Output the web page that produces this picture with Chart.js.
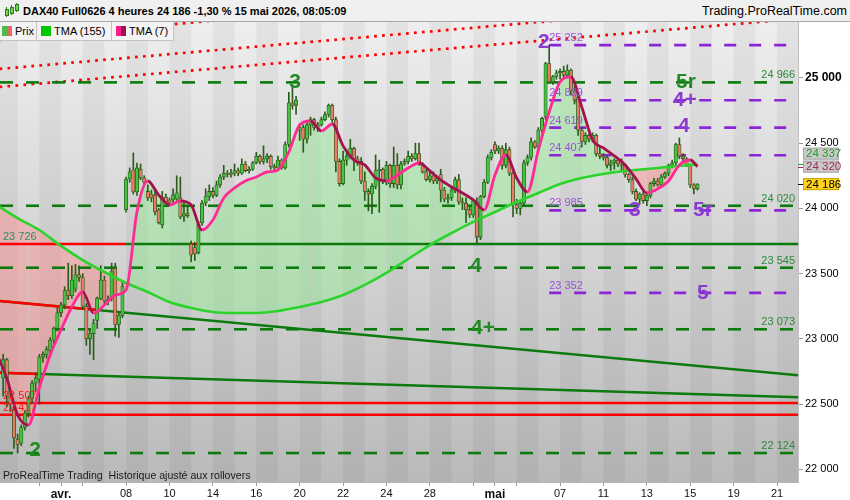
<!DOCTYPE html>
<html lang="fr">
<head>
<meta charset="utf-8">
<title>DAX40 Full0626 4 heures</title>
<script src="https://cdn.jsdelivr.net/npm/chart.js@4.4.1/dist/chart.umd.min.js"></script>
<style>
  body { margin: 0; background: #fff; }
  #cadre { position: relative; width: 850px; height: 500px; overflow: hidden; font-family: "Liberation Sans", Arial, sans-serif; }
  #graphique { position: absolute; left: 0; top: 0; }
  #entete { position: absolute; left: 0; top: 0; width: 850px; height: 21px; background: #f0f0f0; border-bottom: 1px solid #a8a8a8; }
  #titre { position: absolute; left: 23px; top: 0; line-height: 22px; font-size: 11px; font-weight: bold; color: #000; white-space: nowrap; }
  #site { position: absolute; right: 3px; top: 0; line-height: 22px; font-size: 12.5px; color: #000; white-space: nowrap; }
  .meche { position: absolute; width: 1px; background: #2f7d1f; }
  .corps { position: absolute; width: 2px; border: 1px solid #2f7d1f; background: #6fd34f; }
  #legende { position: absolute; left: 0; top: 22px; height: 18px; display: flex; background: #f3f3f3; border-bottom: 1px solid #c2c2c2; font-size: 11px; color: #000; }
  .case { display: flex; align-items: center; box-sizing: border-box; padding-left: 2px; border-right: 1px solid #c2c2c2; height: 18px; white-space: nowrap; }
  .icone { width: 10px; height: 10px; margin-right: 3px; }
  #note { position: absolute; left: 3px; top: 469px; font-size: 10.6px; color: #1a1a1a; white-space: nowrap; }
</style>
</head>
<body>
<div id="cadre">
  <canvas id="graphique" width="850" height="500"></canvas>
  <div id="entete">
    <div class="meche" style="left:6px;top:7px;height:10px"></div><div class="corps" style="left:5px;top:9px;height:5px"></div>
    <div class="meche" style="left:11px;top:5px;height:10px"></div><div class="corps" style="left:10px;top:7px;height:5px"></div>
    <div class="meche" style="left:16px;top:3px;height:9px"></div><div class="corps" style="left:15px;top:4px;height:5px"></div>
    <div id="titre">DAX40 Full0626 4 heures 24 186 -1,30 % 15 mai 2026, 08:05:09</div>
    <div id="site">Trading.ProRealTime.com</div>
  </div>
  <div id="legende">
    <div class="case" style="width:37px"><div class="icone" style="background:linear-gradient(90deg,#4cbb4c 50%,#e26868 50%)"></div>Prix</div>
    <div class="case" style="width:75px;padding-left:4px"><div class="icone" style="background:#00c800"></div>TMA (155)</div>
    <div class="case" style="width:62px;padding-left:4px"><div class="icone" style="background:linear-gradient(90deg,#ff1a8c 50%,#a0104a 50%)"></div>TMA (7)</div>
  </div>
  <div id="note">ProRealTime Trading&nbsp; Historique ajusté aux rollovers</div>
</div>
<script>
// jours de cotation (6 barres de 4 heures par jour)
const jours = ['27/03','30/03','31/03','01/04','02/04','07/04','08/04','09/04','10/04','13/04','14/04','15/04','16/04','17/04','20/04','21/04','22/04','23/04','24/04','27/04','28/04','29/04','30/04','04/05','05/05','06/05','07/05','08/05','11/05','12/05','13/05','14/05','15/05','18/05','19/05','20/05','21/05','22/05'];
// libellé de graduation par jour (null = pas de graduation)
const etiquettesJours = [null,null,'','avr.','',null,'08',null,'10',null,'14',null,'16',null,'20',null,'22',null,'24',null,'28',null,'','mai','',null,'07',null,'11',null,'13',null,'15',null,'19',null,'21',null];
const graduationsY = [22000, 22500, 23000, 23500, 24000, 24500, 25000];
const barresParJour = 6;
const premiereBarre = 2; // 1re bougie visible = 3e barre du 27/03

const ouvertures = [
  22700,22840,22560,22460,
  22230,22200,22320,22430,22540,22660, 22690,22860,22880,22910,22990,23080,
  23200,23260,23370,23330,23380,23490, 23470,23250,23000,23040,23140,23310,
  23450,23290,23310,23540,23110,23180, 23990,24225,24295,24126,24300,24235,
  24130,24110,24103,23988,23873,24087, 24064,24064,24070,24080,23940,23960,
  23727,23700,23660,23888,24041,24090, 24130,24100,24180,24240,24270,24260,
  24270,24290,24270,24340,24290,24300, 24350,24400,24360,24380,24400,24320,
  24310,24370,24310,24490,24810,24790, 24600,24620,24530,24640,24680,24620,
  24640,24680,24720,24790,24680,24360, 24190,24370,24400,24460,24380,24360,
  24210,24130,24110,24170,24290,24300, 24200,24330,24190,24330,24180,24340,
  24360,24400,24380,24420,24340,24280, 24220,24250,24210,24260,24140,24070,
  24080,24140,24220,24050,24040,23990, 23950,24050,23780,24090,24200,24390,
  24490,24440,24460,24330,24450,24270, 24030,24000,24040,24350,24390,24510,
  24470,24600,24700,25110,24970,25010, 25040,25050,25020,25060,24900,24850,
  24600,24510,24560,24530,24560,24420, 24400,24390,24330,24350,24370,24340,
  24330,24260,24220,24130,24070,24110, 24060,24100,24190,24210,24180,24240,
  24270,24330,24350,24490,24400,24380, 24330,24180,24150
];
const hauts = [
  22880,22850,22600,22480,
  22270,22340,22450,22560,22680,22740, 22880,22900,22940,23010,23090,23240,
  23280,23400,23580,23560,23570,23560, 23500,23270,23080,23150,23320,23560,
  23480,23330,23580,23580,23200,23440, 24240,24310,24425,24348,24340,24250,
  24180,24140,24150,24000,24130,24110, 24080,24150,24250,24240,24060,24020,
  23750,23740,23900,24060,24150,24180, 24160,24210,24260,24330,24290,24300,
  24340,24310,24380,24360,24320,24360, 24430,24410,24480,24420,24410,24340,
  24400,24380,24510,24890,24930,24860, 24650,24640,24660,24700,24690,24660,
  24700,24740,24800,24800,24700,24380, 24440,24450,24530,24470,24400,24390,
  24280,24150,24190,24410,24370,24310, 24360,24340,24470,24420,24360,24380,
  24440,24420,24500,24500,24350,24300, 24280,24280,24250,24300,24160,24110,
  24160,24240,24260,24080,24080,24010, 24070,24080,24100,24220,24410,24450,
  24510,24480,24480,24500,24470,24280, 24070,24060,24370,24410,24540,24520,
  24620,24700,25120,25252,25020,25060, 25070,25090,25100,25070,24940,24880,
  24620,24580,24570,24580,24570,24470, 24420,24400,24370,24380,24380,24380,
  24340,24270,24240,24150,24120,24130, 24120,24200,24230,24230,24260,24280,
  24340,24370,24500,24540,24420,24390, 24340,24190,24190
];
const bas = [
  22560,22480,22440,22160,
  22124,22180,22300,22400,22500,22600, 22500,22820,22850,22890,22960,23060,
  23170,23230,23300,23310,23360,23440, 23230,22950,22880,22840,23080,23300,
  23270,23260,23290,23020,23010,23160, 23970,24200,24110,24100,24220,24180,
  24060,24050,23950,23880,23850,24040, 24020,24040,24060,23920,23900,23930,
  23590,23600,23650,23870,24020,24060, 24080,24090,24160,24220,24240,24240,
  24250,24250,24260,24280,24270,24290, 24340,24340,24340,24350,24300,24290,
  24300,24300,24300,24470,24760,24720, 24520,24430,24500,24560,24600,24590,
  24630,24670,24700,24660,24280,24170, 24180,24330,24380,24290,24330,24190,
  24060,23980,23960,24150,23970,24190, 24180,24160,24160,24150,24150,24330,
  24340,24360,24370,24330,24270,24210, 24200,24190,24190,24050,24050,24040,
  24060,24120,24030,23990,23890,23930, 23930,23735,23760,24080,24190,24370,
  24420,24420,24300,24310,24250,23935, 23960,23950,24020,24330,24370,24460,
  24460,24580,24680,24960,24950,24990, 24990,25000,25000,24870,24800,24560,
  24470,24490,24510,24510,24400,24380, 24370,24310,24290,24300,24320,24290,
  24240,24200,24110,24060,24030,24040, 24020,24080,24170,24170,24170,24230,
  24250,24310,24330,24380,24360,24320, 24160,24110,24140
];
const clotures = [
  22840,22560,22500,22240,
  22190,22320,22430,22540,22660,22700, 22860,22880,22920,22990,23080,23200,
  23260,23370,23330,23450,23490,23470, 23250,23000,23040,23120,23310,23450,
  23290,23300,23520,23110,23180,23400, 24225,24280,24126,24310,24235,24200,
  24080,24080,23973,23890,24087,24050, 24041,24103,24120,23935,23960,23945,
  23643,23650,23880,24041,24090,24130, 24100,24180,24240,24270,24260,24270,
  24290,24270,24340,24290,24300,24350, 24400,24360,24380,24400,24320,24310,
  24370,24310,24490,24810,24790,24830, 24620,24530,24640,24680,24620,24640,
  24680,24720,24790,24680,24360,24190, 24370,24400,24460,24380,24350,24210,
  24130,24110,24170,24290,24300,24210, 24330,24190,24330,24180,24340,24360,
  24400,24380,24420,24340,24280,24220, 24250,24210,24230,24140,24070,24080,
  24140,24220,24050,24040,23990,23950, 24060,23780,24090,24200,24390,24430,
  24440,24460,24330,24450,24270,24030, 24000,24040,24350,24390,24510,24470,
  24600,24690,25110,24970,25010,25040, 25050,25020,25060,24900,24830,24600,
  24510,24560,24530,24560,24420,24400, 24390,24330,24350,24370,24340,24330,
  24260,24220,24130,24070,24110,24060, 24100,24190,24210,24180,24240,24270,
  24330,24350,24490,24400,24380,24330, 24180,24150,24186
];

// TMA (7) relevée toutes les demi-journées (3 barres), dernière valeur sur la dernière bougie
const pasTma7 = 3;
const tma7 = [
  22899,22700,22416,22339,22623,22876,23068,23244,23359,23198,23259,23336,
  23374,23972,24210,24103,24026,24057,24026,23834,23911,24080,24157,24210,
  24241,24279,24295,24433,24640,24670,24594,24647,24479,24371,24333,24233,
  24210,24256,24310,24348,24287,24218,24164,24118,24065,23988,24256,24410,
  24233,24126,24448,24739,24969,25008,24778,24525,24463,24402,24333,24226,
  24118,24149,24210,24333,24371,24320
];
// TMA (155) relevée au début de chaque jour, dernière valeur sur la dernière bougie
const tma155 = [
  24030,23926,23834,23712,23604,23512,23428,23359,23282,23236,23206,23198,
  23198,23213,23244,23282,23336,23413,23505,23612,23719,23811,23896,23972,
  24049,24118,24187,24233,24264,24287,24302,24318,24333,24337
];

// niveaux horizontaux
const niveauxVerts = [24966, 24020, 23545, 23073, 22124];
const niveauxViolets = [25252, 24829, 24619, 24407, 23985, 23352];
const niveauxRouges = [22507, 22417];
const support = 23726;
// droites obliques : valeur au bord gauche / droit, fin de la partie rouge (barre)
const tendances = [
  { debut: 23290, fin: 22720, rougeJusqua: 28 },
  { debut: 22740, fin: 22552, rougeJusqua: 12 }
];
// canal pointillé rouge
const canal = [[25291, 25845], [25069, 25602], [24931, 25455]];
// repères de vagues (position en barres, valeur)
const vaguesVertes = [
  { t: '2', x: 10.8, y: 22147 }, { t: '3', x: 82.7, y: 24965 }, { t: '4', x: 132.7, y: 23558 },
  { t: '4+', x: 134.7, y: 23083 }, { t: '5r', x: 190.8, y: 24965 }
];
const vaguesViolettes = [
  { t: '2', x: 151.5, y: 25272 }, { t: '4+', x: 190.5, y: 24831 }, { t: '4', x: 190.2, y: 24628 },
  { t: '3', x: 176.7, y: 23984 }, { t: '5r', x: 195.5, y: 23984 }, { t: '5', x: 195.5, y: 23347 }
];

const xMin = 1.13, xMax = 221.8, yMin = 21902, yMax = 25429;
const ancreG = 1, ancreD = 222;

const VERT = '#0c7a0c', ROUGE = '#ff0000', VIOLET = '#8c24d8';
const fmt = v => String(v).replace(/\B(?=(\d{3})+(?!\d))/g, ' ');
const pos = i => premiereBarre + i;
const der = clotures.length - 1;

Chart.defaults.font.family = '"Liberation Sans", Arial, sans-serif';

const pointsTma7 = tma7.map((v, i) => ({ x: i < tma7.length - 1 ? i * pasTma7 : pos(der), y: v }));
const pointsTma155 = tma155.map((v, i) => ({ x: i < tma155.length - 1 ? i * barresParJour : pos(der), y: v }));
const iSommet = hauts.indexOf(Math.max(...hauts));

const ligne = (data, couleur, largeur, tirets, ordre, extra) => Object.assign({
  type: 'line', data, borderColor: couleur, borderWidth: largeur, borderDash: tirets || [],
  pointRadius: 0, fill: false, order: ordre, borderCapStyle: 'butt'
}, extra || {});

const jeux = [
  ligne(pointsTma155, '#2bd42b', 2.6, null, 2, { cubicInterpolationMode: 'monotone' }),
  ligne(pointsTma7, '#ff2a93', 2.8, null, 1, {
    cubicInterpolationMode: 'monotone',
    fill: { target: 0, above: 'rgba(150,236,150,0.5)', below: 'rgba(255,140,140,0.45)' },
    segment: { borderColor: s => s.p1.parsed.y >= s.p0.parsed.y ? '#ff2a93' : '#a3124f' }
  }),
  {
    type: 'bar', grouped: false, order: 4, barThickness: 1, borderWidth: 0,
    backgroundColor: '#2a5c1a',
    data: clotures.map((c, i) => ({ x: pos(i), y: [bas[i], hauts[i]] }))
  },
  {
    type: 'bar', grouped: false, order: 3, barThickness: 3.4, borderWidth: 0.8, borderSkipped: false,
    borderColor: '#2a5c1a',
    backgroundColor: clotures.map((c, i) => c >= ouvertures[i] ? '#42c642' : '#ec7a68'),
    data: clotures.map((c, i) => ({ x: pos(i), y: [ouvertures[i], c] }))
  }
];

const pointsSupport = [{ x: xMin, y: support, c: clotures[0] }]
  .concat(clotures.map((c, i) => ({ x: pos(i), y: support, c })))
  .concat([{ x: xMax, y: support, c: clotures[der] }]);
jeux.push(ligne(pointsSupport, VERT, 2.5, null, 5, {
  segment: { borderColor: s => pointsSupport[s.p0DataIndex].c < support ? ROUGE : VERT }
}));
niveauxVerts.forEach(v => jeux.push(ligne([{ x: xMin, y: v }, { x: xMax, y: v }], VERT, 2.6, [13, 13], 6)));
niveauxViolets.forEach(v => jeux.push(ligne([{ x: pos(iSommet), y: v }, { x: xMax, y: v }], VIOLET, 2.6, [12, 13], 6)));
niveauxRouges.forEach(v => jeux.push(ligne([{ x: ancreG, y: v }, { x: ancreD, y: v }], ROUGE, 2.5, null, 7)));
tendances.forEach(t => {
  jeux.push(ligne([{ x: ancreG, y: t.debut }, { x: ancreD, y: t.fin }], VERT, 2.4, null, 8));
  const yr = t.debut + (t.fin - t.debut) * (t.rougeJusqua - ancreG) / (ancreD - ancreG);
  jeux.push(ligne([{ x: ancreG, y: t.debut }, { x: t.rougeJusqua, y: yr }], ROUGE, 2.4, null, 7.5));
});
canal.forEach(c => jeux.push(ligne([{ x: ancreG, y: c[0] }, { x: ancreD, y: c[1] }], ROUGE, 2.7, [2.7, 5.3], 9)));

const fond = {
  id: 'fond',
  beforeDraw(chart) {
    const { ctx, chartArea: a, scales: { x } } = chart;
    ctx.save();
    const g = ctx.createLinearGradient(0, a.top, 0, a.bottom);
    g.addColorStop(0, '#eeeeee');
    g.addColorStop(1, '#bababa');
    ctx.fillStyle = g;
    ctx.fillRect(a.left, a.top, a.width, a.height);
    ctx.beginPath(); ctx.rect(a.left, a.top, a.width, a.height); ctx.clip();
    ctx.fillStyle = 'rgba(0,0,0,0.045)';
    jours.forEach((j, i) => {
      if (i % 2) return;
      const x0 = x.getPixelForValue(i * barresParJour), x1 = x.getPixelForValue((i + 1) * barresParJour);
      ctx.fillRect(x0, a.top, x1 - x0, a.height);
    });
    ctx.restore();
  }
};

const textes = {
  id: 'textes',
  afterDatasetsDraw(chart) {
    const { ctx, chartArea: a, scales: { x, y } } = chart;
    ctx.save();
    ctx.textBaseline = 'middle';
    ctx.font = '11px "Liberation Sans", Arial, sans-serif';
    ctx.textAlign = 'right';
    ctx.fillStyle = '#2a8a3a';
    niveauxVerts.forEach(v => ctx.fillText(fmt(v), a.right - 3, y.getPixelForValue(v) - 7));
    ctx.textAlign = 'left';
    ctx.fillStyle = '#9a50d8';
    niveauxViolets.forEach(v => ctx.fillText(fmt(v), x.getPixelForValue(pos(iSommet)), y.getPixelForValue(v) - 7));
    ctx.fillStyle = '#2f8a60';
    ctx.fillText(fmt(support), a.left + 3, y.getPixelForValue(support) - 7);
    ctx.fillStyle = '#ff1a1a';
    niveauxRouges.forEach(v => ctx.fillText(fmt(v), a.left + 3, y.getPixelForValue(v) - 7));
    ctx.textAlign = 'center';
    ctx.font = 'bold 21px "Liberation Sans", Arial, sans-serif';
    ctx.fillStyle = '#238a23';
    vaguesVertes.forEach(w => ctx.fillText(w.t, x.getPixelForValue(w.x), y.getPixelForValue(w.y)));
    ctx.fillStyle = '#8b3bd2';
    vaguesViolettes.forEach(w => ctx.fillText(w.t, x.getPixelForValue(w.x), y.getPixelForValue(w.y)));
    ctx.restore();
  },
  afterDraw(chart) {
    const { ctx, chartArea: a, scales: { y } } = chart;
    const prix = [
      { v: tma155[tma155.length - 1], fond: '#c9c9c9', bord: '#a6a6a6', texte: '#1fa01f' },
      { v: tma7[tma7.length - 1], fond: '#c9c9c9', bord: '#a6a6a6', texte: '#a3285a' },
      { v: clotures[der], fond: '#ffd21f', bord: '#c9a400', texte: '#000' }
    ].sort((p, q) => p.v - q.v);
    ctx.save();
    ctx.font = '11.5px "Liberation Sans", Arial, sans-serif';
    ctx.textBaseline = 'middle';
    ctx.textAlign = 'left';
    let haut = Infinity;
    const h = 12;
    prix.forEach(p => {
      const py = y.getPixelForValue(p.v);
      ctx.strokeStyle = p.texte; ctx.lineWidth = 1;
      ctx.beginPath(); ctx.moveTo(a.right, Math.round(py) + 0.5); ctx.lineTo(a.right + 5, Math.round(py) + 0.5); ctx.stroke();
      const bas0 = Math.min(py + h / 2, haut);
      const top = bas0 - h;
      ctx.fillStyle = p.fond;
      ctx.fillRect(a.right + 5, top, 36, h);
      ctx.strokeStyle = p.bord;
      ctx.strokeRect(a.right + 5.5, top + 0.5, 35, h - 1);
      ctx.fillStyle = p.texte;
      ctx.fillText(fmt(p.v), a.right + 8, top + h / 2 + 0.5);
      haut = top - 1;
    });
    ctx.restore();
  }
};

new Chart(document.getElementById('graphique'), {
  type: 'bar',
  data: { datasets: jeux },
  options: {
    responsive: false,
    animation: false,
    layout: { padding: { top: 22, left: 0, right: 0, bottom: 0 } },
    plugins: { legend: { display: false }, tooltip: { enabled: false }, filler: { drawTime: 'beforeDatasetsDraw' } },
    scales: {
      x: {
        type: 'linear', min: xMin, max: xMax, offset: false,
        grid: { offset: false, drawOnChartArea: false, tickLength: 4, color: '#9a9a9a' },
        border: { color: '#b5b5b5' },
        afterBuildTicks: s => {
          s.ticks = [];
          etiquettesJours.forEach((t, i) => { if (t !== null) s.ticks.push({ value: i * barresParJour }); });
        },
        ticks: {
          autoSkip: false, maxRotation: 0, padding: 1, color: '#111',
          callback: v => etiquettesJours[Math.round(v / barresParJour)],
          font: c => {
            const t = c.tick ? etiquettesJours[Math.round(c.tick.value / barresParJour)] : '';
            return { size: t === 'avr.' || t === 'mai' ? 12 : 11, weight: t === 'avr.' || t === 'mai' ? 'bold' : 'normal' };
          }
        },
        afterFit: s => { s.height = 18; }
      },
      y: {
        type: 'linear', position: 'right', min: yMin, max: yMax,
        grid: { drawOnChartArea: false, tickLength: 5, color: '#9a9a9a' },
        border: { color: '#c0c0c0' },
        afterBuildTicks: s => { s.ticks = graduationsY.map(v => ({ value: v })); },
        ticks: {
          autoSkip: false, padding: 2, color: '#000',
          callback: v => fmt(v),
          font: c => (c.tick && c.tick.value === 25000) ? { size: 12, weight: 'bold' } : { size: 11, weight: 'normal' }
        },
        afterFit: s => { s.width = 52; }
      }
    }
  },
  plugins: [fond, textes]
});
</script>
</body>
</html>
